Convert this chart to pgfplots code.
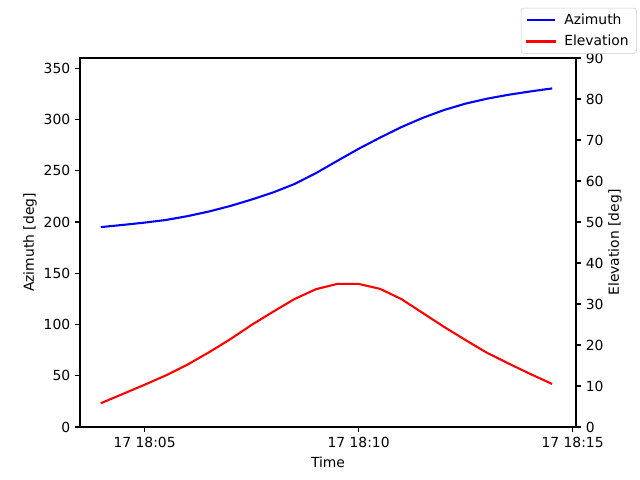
\documentclass[border=0pt]{standalone}
\usepackage{fontspec}
\setmainfont{DejaVu Sans}
\usepackage{pgfplots}
\pgfplotsset{compat=1.18}
\pgfplotstableread{
t az el
4.0 195.1 5.9
4.5 197.2 8.1
5.0 199.4 10.3
5.5 202.0 12.6
6.0 205.7 15.2
6.5 210.2 18.2
7.0 215.6 21.4
7.5 221.9 24.9
8.0 228.8 28.1
8.5 237.0 31.2
9.0 247.6 33.6
9.5 259.6 34.9
10.0 271.4 34.9
10.5 282.3 33.7
11.0 292.6 31.2
11.5 301.6 27.8
12.0 309.3 24.4
12.5 315.5 21.2
13.0 320.3 18.1
13.5 324.1 15.5
14.0 327.3 13.0
14.5 330.2 10.6
}\datatable
\begin{document}
\begin{tikzpicture}[font=\fontsize{10}{12}\selectfont]
\useasboundingbox (0,0) rectangle (460.8pt,345.6pt);
\pgfplotsset{
  every axis/.append style={
    scale only axis, width=357.12pt, height=265.68pt,
    at={(57.6pt,38.16pt)}, anchor=south west,
    xmin=3.49, xmax=15.08,
    tick align=outside, major tick length=3.5pt,
    axis line style={line width=0.8pt},
    every tick/.style={black, line width=0.8pt},
    tick label style={font=\fontsize{10}{12}\selectfont},
    label style={font=\fontsize{10}{12}\selectfont},
    /pgf/number format/assume math mode=true,
  },
}
\begin{axis}[
  ymin=0, ymax=360, ytick={0,50,...,350},
  xtick={5,10,15}, xticklabels={17 18:05,17 18:10,17 18:15},
  xtick pos=bottom, ytick pos=left,
  xlabel={Time}, ylabel={Azimuth [deg]},
  xlabel style={at={(axis description cs:0.5,-0.0949)}, anchor=center},
  ylabel style={at={(axis description cs:-0.1008,0.5)}, anchor=center},
]
\addplot[blue, line width=1.5pt, line join=round, line cap=rect] table[x=t, y=az] {\datatable};
\end{axis}
\begin{axis}[
  ymin=0, ymax=90, ytick={0,10,...,90},
  axis x line=none, axis y line*=right,
  ylabel={Elevation [deg]},
  ylabel style={at={(axis description cs:1.0786,0.5)}, anchor=center},
  legend style={at={(1,1)}, anchor=north east, xshift=43.8pt, yshift=36.1pt,
    draw=black!20, rounded corners=2pt, font=\fontsize{10}{12}\selectfont,
    inner xsep=3.6pt, inner ysep=2pt, row sep=2.4pt, column sep=4pt},
  legend cell align=left,
  legend image code/.code={\draw[#1] (0pt,0pt) -- (20pt,0pt);},
]
\addlegendimage{blue, line width=1.5pt}
\addlegendentry{Azimuth}
\addplot[red, line width=1.5pt, line join=round, line cap=rect] table[x=t, y=el] {\datatable};
\addlegendentry{Elevation}
\end{axis}
\end{tikzpicture}
\end{document}
